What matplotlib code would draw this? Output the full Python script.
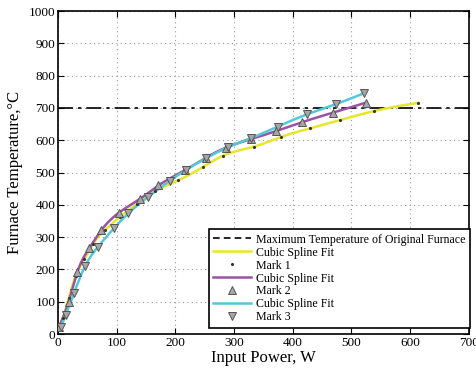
import matplotlib
matplotlib.use("Agg")
import matplotlib.pyplot as plt
from matplotlib.lines import Line2D
import numpy as np

# values
power1 = [0, 8, 18, 30, 45, 60, 80, 105, 135, 165, 205, 247, 281, 334, 380, 430, 480, 538, 614]
temp1 = [20, 50, 110, 180, 232, 280, 322, 362, 404, 442, 476, 517, 552, 580, 610, 637, 662, 690, 716]

power2 = [2, 18, 33, 53, 74, 104, 140, 171, 217, 252, 286, 328, 371, 416, 468, 524]
temp2 = [23, 100, 193, 265, 322, 376, 419, 460, 508, 546, 577, 603, 628, 656, 685, 716]

power3 = [5, 13, 27, 46, 68, 95, 120, 153, 190, 218, 252, 289, 328, 374, 424, 474, 522]
temp3 = [23, 59, 126, 210, 270, 327, 374, 424, 474, 508, 544, 578, 606, 642, 680, 712, 746]

maxTemp = 700


def cubicSpline(x, y, num=400):       # natural cubic spline through the points
    x = np.asarray(x, float)
    y = np.asarray(y, float)
    n = len(x)
    h = np.diff(x)
    A = np.zeros((n, n))
    b = np.zeros(n)
    A[0, 0] = A[-1, -1] = 1
    for i in range(1, n - 1):
        A[i, i - 1] = h[i - 1]
        A[i, i] = 2 * (h[i - 1] + h[i])
        A[i, i + 1] = h[i]
        b[i] = 3 * ((y[i + 1] - y[i]) / h[i] - (y[i] - y[i - 1]) / h[i - 1])
    c = np.linalg.solve(A, b)
    xs = np.linspace(x[0], x[-1], num)
    idx = np.clip(np.searchsorted(x, xs) - 1, 0, n - 2)
    dx = xs - x[idx]
    bb = (y[idx + 1] - y[idx]) / h[idx] - h[idx] * (2 * c[idx] + c[idx + 1]) / 3
    dd = (c[idx + 1] - c[idx]) / (3 * h[idx])
    return xs, y[idx] + bb * dx + c[idx] * dx ** 2 + dd * dx ** 3


plt.rcParams["font.family"] = ["Liberation Serif", "DejaVu Serif"]

fig = plt.figure(figsize=(4.76, 3.71), dpi=100)
ax = fig.add_axes([0.122, 0.0997, 0.863, 0.8706])

ax.axhline(maxTemp, color="black", lw=1.2, linestyle=(0, (9, 3, 2, 3)), zorder=2)

yellow, purple, cyan = "#e6e62a", "#9c52a6", "#52c8d8"
triStyle = dict(linestyle="none", markersize=6, markerfacecolor="#a6a6a6",
                markeredgecolor="#555555", markeredgewidth=0.7)

xs, ys = cubicSpline(power1, temp1)
ax.plot(xs, ys, color=yellow, lw=1.8, zorder=3)
ax.plot(power1, temp1, ".", color="#333333", markersize=2.5, zorder=4)

xs, ys = cubicSpline(power2, temp2)
ax.plot(xs, ys, color=purple, lw=1.8, zorder=3)
ax.plot(power2, temp2, marker="^", zorder=5, **triStyle)

xs, ys = cubicSpline(power3, temp3)
ax.plot(xs, ys, color=cyan, lw=1.8, zorder=3)
ax.plot(power3, temp3, marker="v", zorder=5, **triStyle)

ax.set_xlim(0, 700)
ax.set_ylim(0, 1000)
ax.set_xticks(range(0, 701, 100))
ax.set_yticks(range(0, 1001, 100))
ax.grid(True, color="#999999", linestyle=(0, (1, 3)), lw=0.8)
ax.tick_params(direction="in", top=True, right=True, labelsize=9.5, length=4, width=0.8, pad=2)
for s in ax.spines.values():
    s.set_linewidth(1.2)

ax.set_xlabel("Input Power, W", fontsize=12, labelpad=1)
ax.set_ylabel("Furnace Temperature,°C", fontsize=12, labelpad=4)

handles = [
    Line2D([], [], color="black", lw=1.2, linestyle=(0, (4, 2.5))),
    Line2D([], [], color=yellow, lw=1.8),
    Line2D([], [], color="#333333", marker=".", markersize=2.5, linestyle="none"),
    Line2D([], [], color=purple, lw=1.8),
    Line2D([], [], marker="^", **triStyle),
    Line2D([], [], color=cyan, lw=1.8),
    Line2D([], [], marker="v", **triStyle),
]
labels = ["Maximum Temperature of Original Furnace", "Cubic Spline Fit", "Mark 1",
          "Cubic Spline Fit", "Mark 2", "Cubic Spline Fit", "Mark 3"]
leg = ax.legend(handles, labels, loc="lower right", bbox_to_anchor=(1.002, 0.02),
                fontsize=8.6, frameon=True, fancybox=False, framealpha=1,
                edgecolor="black", handlelength=3.2, handletextpad=0.4,
                labelspacing=0.08, borderpad=0.35, borderaxespad=0)
leg.get_frame().set_linewidth(1.2)

fig.savefig("out.png", dpi=100)
plt.close(fig)
